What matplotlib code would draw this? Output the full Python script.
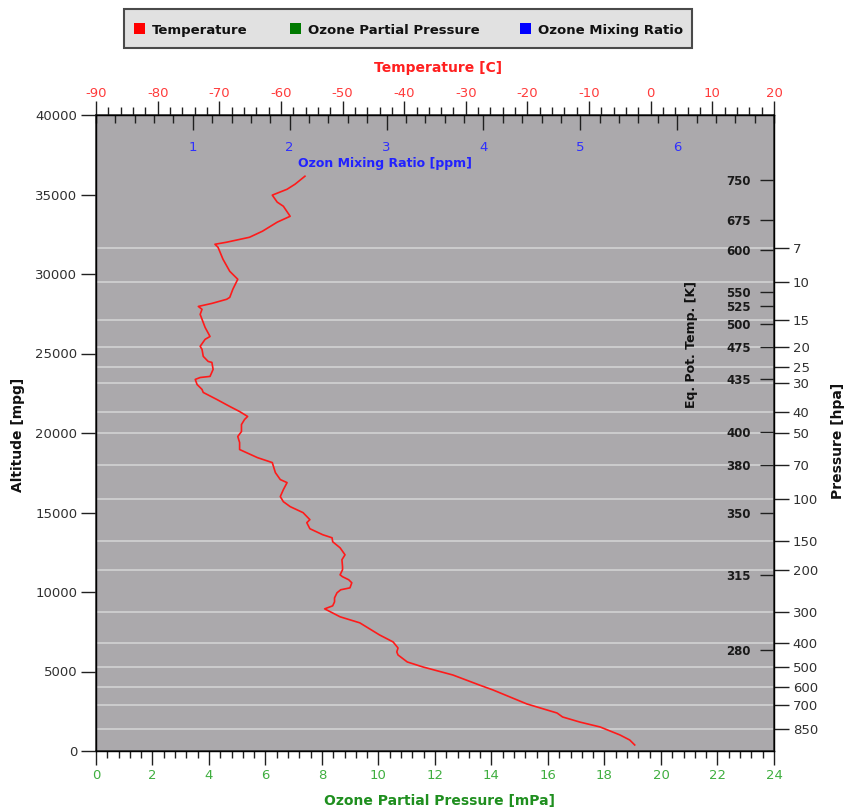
import matplotlib
matplotlib.use('Agg')
import matplotlib.pyplot as plt
from matplotlib.ticker import MultipleLocator
from matplotlib.patches import Rectangle

# sounding profile: altitude [m] and temperature [C]
altitude = [380, 690, 1010, 1510, 1820, 2140, 2390, 2960, 3840, 4150,
            4780, 5290, 5600, 6040, 6230, 6480, 6860, 7300, 8060, 8440,
            8940, 9130, 9380, 9630, 9950, 10140, 10260, 10580, 10770, 10960,
            11080, 11400, 11590, 12030, 12340, 12780, 13160, 13410, 13600, 13980,
            14360, 14550, 14990, 15370, 15680, 16000, 16440, 16880, 17070, 17510,
            18140, 18450, 18960, 19400, 19780, 20090, 20530, 20850, 21040, 21350,
            21670, 22110, 22550, 22740, 23050, 23370, 23490, 23560, 24000, 24440,
            24500, 24820, 25260, 25450, 25890, 26070, 26640, 27460, 27780, 27960,
            28150, 28410, 28530, 29040, 29670, 30170, 30930, 31680, 31870, 32000,
            32310, 32690, 33260, 33630, 34260, 34520, 34960, 35330, 35650, 36150]
temperature = [-2.6, -3.4, -5.0, -8.2, -11.5, -14.3, -15.2, -20.1, -25.6, -27.8,
               -32.1, -37.0, -39.5, -41.0, -41.2, -41.0, -41.8, -44.0, -47.2, -50.4,
               -52.9, -51.6, -51.3, -51.3, -50.9, -50.3, -48.8, -48.5, -49.0, -50.0,
               -50.4, -50.0, -50.0, -50.1, -49.6, -50.4, -51.6, -51.7, -53.2, -55.3,
               -55.8, -55.3, -56.4, -58.5, -59.6, -60.1, -59.6, -59.0, -60.1, -60.9,
               -61.4, -63.8, -66.7, -66.7, -67.0, -66.4, -66.4, -65.9, -65.4, -66.7,
               -68.3, -70.4, -72.6, -72.8, -73.6, -73.9, -73.1, -71.5, -71.0, -71.2,
               -71.8, -72.6, -72.8, -73.1, -72.3, -71.5, -72.3, -73.1, -72.8, -73.4,
               -71.2, -68.8, -68.3, -67.8, -67.0, -68.3, -69.4, -70.2, -70.7, -68.8,
               -65.1, -63.0, -60.6, -58.5, -59.6, -60.6, -61.4, -59.0, -57.7, -56.1]

# pressure levels [hpa] and their altitude
pressure_labels = ['7', '10', '15', '20', '25', '30', '40', '50', '70', '100',
                   '150', '200', '300', '400', '500', '600', '700', '850']
pressure_alt = [31630, 29500, 27110, 25410, 24150, 23140, 21320, 20000, 17990, 15850,
                13210, 11380, 8740, 6790, 5280, 4020, 2890, 1380]

# equivalent potential temperature levels [K] and their altitude
eqpot_labels = ['750', '675', '600', '550', '525', '500', '475', '435',
                '400', '380', '350', '315', '280']
eqpot_alt = [35910, 33390, 31510, 28870, 27990, 26850, 25410, 23390,
             20060, 17990, 14970, 11070, 6350]

mixing_ticks = [1, 2, 3, 4, 5, 6]
series_names = ['Temperature', 'Ozone Partial Pressure', 'Ozone Mixing Ratio']
series_colors = ['#ff0000', '#007a00', '#0000ff']

plt.rcParams['font.family'] = ['DejaVu Sans']
plt.rcParams['axes.unicode_minus'] = False
W, H = 845, 809

fig = plt.figure(figsize=(W / 100, H / 100), dpi=100)
fig.patch.set_facecolor('white')
ax = fig.add_axes([96 / W, 58 / H, 678 / W, 636 / H])
ax.set_facecolor('#aba9ac')
for s in ax.spines.values():
    s.set_color('#303030')
    s.set_linewidth(1.1)

# bottom: ozone partial pressure
ax.set_xlim(0, 24)
ax.set_ylim(0, 40000)
ax.xaxis.set_major_locator(MultipleLocator(2))
ax.xaxis.set_minor_locator(MultipleLocator(0.4))
ax.tick_params(axis='x', which='major', direction='out', length=10, width=1,
               color='#202020', pad=3, labelsize=9.5, labelcolor='#3fae3f')
ax.tick_params(axis='x', which='minor', direction='out', length=5, width=1,
               color='#202020')
ax.yaxis.set_major_locator(MultipleLocator(5000))
ax.tick_params(axis='y', direction='out', length=10.5, width=1, color='#202020',
               pad=3, labelsize=9.5, labelcolor='#303030')
ax.hlines(pressure_alt, 0, 24, colors='#d6d6d6', lw=1.1, zorder=1)

# top: temperature
ax_t = ax.twiny()
ax_t.set_xlim(-90, 20)
ax_t.xaxis.set_major_locator(MultipleLocator(10))
ax_t.xaxis.set_minor_locator(MultipleLocator(2))
ax_t.tick_params(axis='x', which='major', direction='out', length=10, width=1,
                 color='#202020', pad=1, labelsize=9.5, labelcolor='#ff3b3b')
ax_t.tick_params(axis='x', which='minor', direction='out', length=5.5, width=1,
                 color='#202020')
ax_t.plot(temperature, altitude, color='#ff1a1a', lw=1.2, zorder=5)

# top inside: ozone mixing ratio
ax_m = ax.twiny()
ax_m.set_xlim(0, 7)
ax_m.set_xticks(mixing_ticks)
ax_m.xaxis.set_minor_locator(MultipleLocator(0.2))
ax_m.tick_params(axis='x', which='major', direction='in', length=10.5, width=1,
                 color='#202020', pad=-28, labelsize=9.5, labelcolor='#2f2fff')
ax_m.tick_params(axis='x', which='minor', direction='in', length=5.5, width=1,
                 color='#202020')

# right outside: pressure
ax_p = ax.twinx()
ax_p.set_ylim(0, 40000)
ax_p.set_yticks(pressure_alt, pressure_labels)
ax_p.tick_params(axis='y', direction='out', length=10.5, width=1, color='#202020',
                 pad=3, labelsize=9.5, labelcolor='#303030')

# right inside: equivalent potential temperature
ax_k = ax.twinx()
ax_k.set_ylim(0, 40000)
ax_k.set_yticks(eqpot_alt, eqpot_labels)
ax_k.tick_params(axis='y', direction='in', length=10, width=1, color='#202020',
                 pad=-34.5, labelsize=8.5, labelcolor='#1a1a1a')
for lbl in ax_k.get_yticklabels():
    lbl.set_fontweight('bold')

# axis titles
fig.text(438 / W, 1 - 68 / H, 'Temperature [C]', color='#ff2020', fontsize=10,
         fontweight='bold', ha='center', va='center')
fig.text(440 / W, 1 - 801 / H, 'Ozone Partial Pressure [mPa]', color='#1f8f1f',
         fontsize=10, fontweight='bold', ha='center', va='center')
fig.text(385 / W, 1 - 163 / H, 'Ozon Mixing Ratio [ppm]', color='#2222ff',
         fontsize=9, fontweight='bold', ha='center', va='center')
fig.text(18 / W, 1 - 435 / H, 'Altitude [mpg]', color='#111111', fontsize=10,
         fontweight='bold', rotation=90, ha='center', va='center')
fig.text(692 / W, 1 - 345 / H, 'Eq. Pot. Temp. [K]', color='#111111', fontsize=9,
         fontweight='bold', rotation=90, ha='center', va='center')
fig.text(838 / W, 1 - 441 / H, 'Pressure [hpa]', color='#111111', fontsize=10,
         fontweight='bold', rotation=90, ha='center', va='center')

# legend box
fig.patches.append(Rectangle((124 / W, 1 - 48 / H), 568 / W, 39 / H,
                             transform=fig.transFigure, facecolor='#e1e1e1',
                             edgecolor='#4a4a4a', lw=1.5))
for name, col, sx in zip(series_names, series_colors, [134, 290, 520]):
    fig.patches.append(Rectangle((sx / W, 1 - 34 / H), 11 / W, 11 / H,
                                 transform=fig.transFigure, facecolor=col,
                                 edgecolor='none'))
    fig.text((sx + 18) / W, 1 - 34 / H, name, color='#111111', fontsize=9.5,
             fontweight='bold', ha='left', va='baseline')

fig.savefig('out.png', dpi=100)
